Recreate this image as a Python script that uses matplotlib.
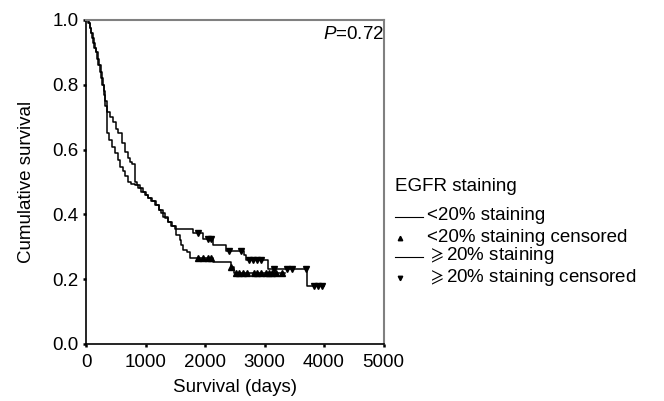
import numpy as np
import matplotlib
matplotlib.use("Agg")
import matplotlib.pyplot as plt
from matplotlib.lines import Line2D

plt.rcParams['font.family'] = ['Liberation Sans', 'DejaVu Sans']
plt.rcParams['mathtext.fontset'] = 'custom'
plt.rcParams['mathtext.rm'] = 'Liberation Sans'
plt.rcParams['mathtext.it'] = 'Liberation Sans:italic'
plt.rcParams['mathtext.fallback'] = 'stixsans'

# ---- data: Kaplan-Meier step points (time in days, cumulative survival) ----
lt_times = [0, 40, 60, 80, 100, 120, 140, 160, 190, 210, 230, 250, 273, 300, 318, 346,
            390, 429, 480, 541, 569, 620, 660, 708, 760, 819, 870, 930, 990, 1040,
            1100, 1160, 1220, 1266, 1320, 1376, 1440, 1516, 1572, 1600, 1628, 1700,
            1750, 2130, 2436, 2492]
lt_surv = [1.0, 0.99, 0.975, 0.96, 0.945, 0.93, 0.915, 0.90, 0.88, 0.86, 0.84, 0.82,
           0.80, 0.77, 0.735, 0.65, 0.63, 0.609, 0.59, 0.568, 0.547, 0.535, 0.52, 0.50,
           0.495, 0.49, 0.48, 0.47, 0.46, 0.45, 0.44, 0.43, 0.415, 0.405, 0.39, 0.377,
           0.365, 0.336, 0.321, 0.306, 0.29, 0.285, 0.264, 0.254, 0.237, 0.22]
lt_end = 3350
lt_censored = [1878, 1962, 2045, 2101, 2436, 2520, 2575, 2631, 2714, 2826, 2882, 2937,
               3021, 3077, 3133, 3188, 3300]

ge_times = [0, 50, 70, 90, 110, 130, 150, 170, 200, 220, 245, 265, 285, 305, 325, 346,
            400, 457, 500, 541, 600, 652, 700, 736, 780, 819, 860, 903, 950, 1000,
            1050, 1110, 1170, 1230, 1293, 1376, 1430, 1488, 1795, 1962, 2140, 2352,
            2650, 2697, 3066, 3718]
ge_surv = [1.0, 0.99, 0.975, 0.96, 0.945, 0.93, 0.915, 0.90, 0.88, 0.86, 0.84, 0.82,
           0.80, 0.78, 0.75, 0.717, 0.70, 0.686, 0.665, 0.65, 0.62, 0.593, 0.575, 0.563,
           0.555, 0.50, 0.49, 0.48, 0.47, 0.46, 0.45, 0.44, 0.43, 0.415, 0.393, 0.377,
           0.365, 0.355, 0.342, 0.325, 0.305, 0.288, 0.275, 0.259, 0.232, 0.178]
ge_end = 3997
ge_censored = [1878, 2045, 2100, 2408, 2603, 2742, 2800, 2870, 2937, 3160, 3383, 3467,
               3690, 3829, 3900, 3969]

x_ticks = [0, 1000, 2000, 3000, 4000, 5000]
y_ticks = [0.0, 0.2, 0.4, 0.6, 0.8, 1.0]

legend_title = 'EGFR staining'
legend_labels = ['<20% staining', '<20% staining censored',
                 r'$\geqslant$20% staining', r'$\geqslant$20% staining censored']

FS = 13.5
W, H = 664, 401


def step_value(times, surv, t):
    idx = np.searchsorted(times, t, side='right') - 1
    return np.asarray(surv)[idx]


fig = plt.figure(figsize=(W / 100, H / 100), dpi=100)
ax = fig.add_axes([86 / W, 57 / H, 297.5 / W, 324 / H])

for times, surv, end, cens, mk in [
        (lt_times, lt_surv, lt_end, lt_censored, '^'),
        (ge_times, ge_surv, ge_end, ge_censored, 'v')]:
    t = list(times) + [end]
    s = list(surv) + [surv[-1]]
    ax.plot(t, s, drawstyle='steps-post', color='black', lw=1.1)
    cy = step_value(times, surv, np.array(cens))
    ax.plot(cens, cy, linestyle='none', marker=mk, color='black', markersize=5)

ax.set_xlim(0, 5000)
ax.set_ylim(0, 1.0)
ax.set_xticks(x_ticks)
ax.set_yticks(y_ticks)
ax.set_xticklabels([str(v) for v in x_ticks])
ax.set_yticklabels([f'{v:.1f}' for v in y_ticks])
ax.tick_params(axis='both', labelsize=FS, length=2.5, width=1.8, color='black')
ax.tick_params(axis='x', pad=4.5)
ax.tick_params(axis='y', pad=3)

for side in ['left', 'bottom']:
    ax.spines[side].set_color('black')
    ax.spines[side].set_linewidth(1.2)
for side in ['top', 'right']:
    ax.spines[side].set_color('#808080')
    ax.spines[side].set_linewidth(1.5)

ax.set_xlabel('Survival (days)', fontsize=FS, labelpad=6)
ax.set_ylabel('Cumulative survival', fontsize=FS, labelpad=12)

ax.text(1.0, 0.98, r'$P$=0.72', transform=ax.transAxes, ha='right', va='top',
        fontsize=FS)

# legend drawn outside the axes
fig.text(395 / W, 1 - 187 / H, legend_title, ha='left', va='center', fontsize=FS)
row_y = [217, 238, 257, 278]
kinds = ['line', '^', 'line', 'v']
for y, kind, lab in zip(row_y, kinds, legend_labels):
    yf = 1 - y / H
    if kind == 'line':
        fig.add_artist(Line2D([395 / W, 423 / W], [yf, yf], color='black', lw=0.8,
                              transform=fig.transFigure))
    else:
        fig.add_artist(Line2D([400 / W], [yf], color='black', marker=kind,
                              linestyle='none', markersize=3.2,
                              transform=fig.transFigure))
    fig.text(427 / W, 1 - (y - 1) / H, lab, ha='left', va='center', fontsize=FS)

fig.savefig('out.png', dpi=100)
